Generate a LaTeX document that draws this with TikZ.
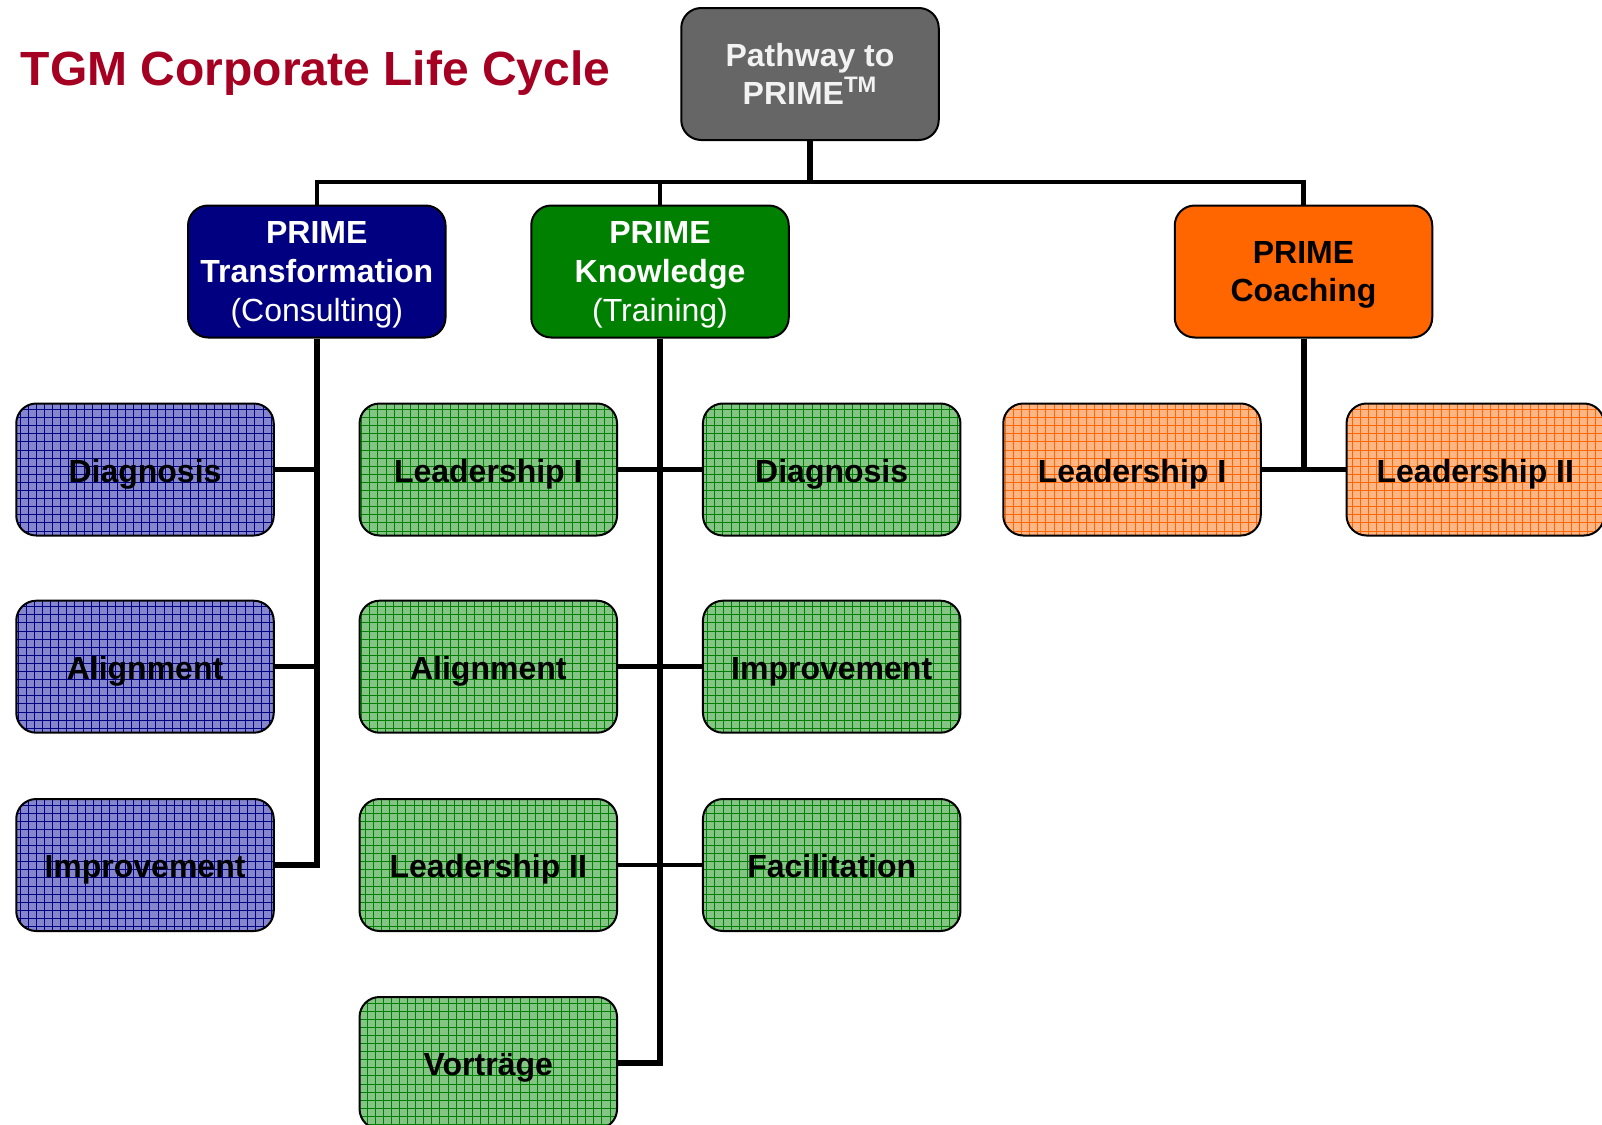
\documentclass[tikz,border=0pt]{standalone}
\usepackage{fontspec}
\setmainfont{Liberation Sans}
\definecolor{tgmred}{RGB}{165,0,33}
\definecolor{topgray}{RGB}{102,102,102}
\definecolor{navyblue}{RGB}{0,0,128}
\definecolor{darkgreen}{RGB}{0,128,0}
\definecolor{coachorange}{RGB}{255,102,0}
\definecolor{lightblue}{RGB}{134,134,206}
\definecolor{lightgreen}{RGB}{132,196,132}
\definecolor{lightorange}{RGB}{255,182,132}
\begin{document}
\begin{tikzpicture}[x=0.5pt,y=-0.5pt]
		\tikzset{box/.style = {shape=rectangle,draw,rounded corners=10pt,line width=1pt,minimum width=128.75pt,minimum height=66pt,align=center,text depth=-2.8pt,font=\bfseries\fontsize{16}{19.3}\selectfont}}
		\tikzset{cell/.style 2 args = {box,text height=12.8pt,text depth=0pt,fill=#1,path picture={\draw[#2,line width=0.4pt,step=4.05pt] (path picture bounding box.south west) grid (path picture bounding box.north east);}}}
		\tikzset{trunk/.style = {line width=3pt}}
		\tikzset{branch/.style = {line width=2.3pt}}
		\useasboundingbox (0,0) rectangle (1602,1125);
		\node[anchor=base west,inner sep=0pt,text=tgmred,font=\bfseries\fontsize{24}{28}\selectfont] (title) at (20.5,85) {TGM Corporate Life Cycle};
		\node[box,fill=topgray,text={rgb,255:red,242;green,242;blue,242}] (top) at (810,74) {Pathway to\\PRIME\textsuperscript{TM}};
		\node[box,fill=navyblue,text=white] (trans) at (316.8,271.5) {PRIME\\Transformation\\\mdseries(Consulting)};
		\node[box,fill=darkgreen,text=white] (know) at (660,271.5) {PRIME\\Knowledge\\\mdseries(Training)};
		\node[box,fill=coachorange] (coach) at (1303.5,271.5) {PRIME\\Coaching};
		% consulting
		\node[cell={lightblue}{navyblue}] (tdiag) at (145,469.5) {Diagnosis};
		\node[cell={lightblue}{navyblue}] (talign) at (145,666.7) {Alignment};
		\node[cell={lightblue}{navyblue}] (timpr) at (145,865) {Improvement};
		% training
		\node[cell={lightgreen}{darkgreen}] (klead) at (488.3,469.5) {Leadership I};
		\node[cell={lightgreen}{darkgreen}] (kalign) at (488.3,666.7) {Alignment};
		\node[cell={lightgreen}{darkgreen}] (kleadii) at (488.3,865) {Leadership II};
		\node[cell={lightgreen}{darkgreen}] (kvort) at (488.3,1063) {Vorträge};
		\node[cell={lightgreen}{darkgreen}] (kdiag) at (831.7,469.5) {Diagnosis};
		\node[cell={lightgreen}{darkgreen}] (kimpr) at (831.7,666.7) {Improvement};
		\node[cell={lightgreen}{darkgreen}] (kfac) at (831.7,865) {Facilitation};
		% coaching
		\node[cell={lightorange}{coachorange}] (clead) at (1132,469.5) {Leadership I};
		\node[cell={lightorange}{coachorange}] (cleadii) at (1475.3,469.5) {Leadership II};
		\coordinate (bus) at (810,182);
		\draw[trunk] (top.south) -- (top.south |- bus);
		\draw[branch] (trans.north) |- (bus) -| (coach.north);
		\draw[branch] (know.north) -- (know.north |- bus);
		\draw[trunk] (trans.south) |- (timpr.east);
		\draw[branch] (tdiag.east) -- (tdiag.east -| trans.south);
		\draw[branch] (talign.east) -- (talign.east -| trans.south);
		\draw[trunk] (know.south) |- (kvort.east);
		\draw[branch] (klead.east) -- (kdiag.west);
		\draw[branch] (kalign.east) -- (kimpr.west);
		\draw[branch] (kleadii.east) -- (kfac.west);
		\draw[trunk] (coach.south) -- (coach.south |- clead.east);
		\draw[branch] (clead.east) -- (cleadii.west);
	\end{tikzpicture}
\end{document}
